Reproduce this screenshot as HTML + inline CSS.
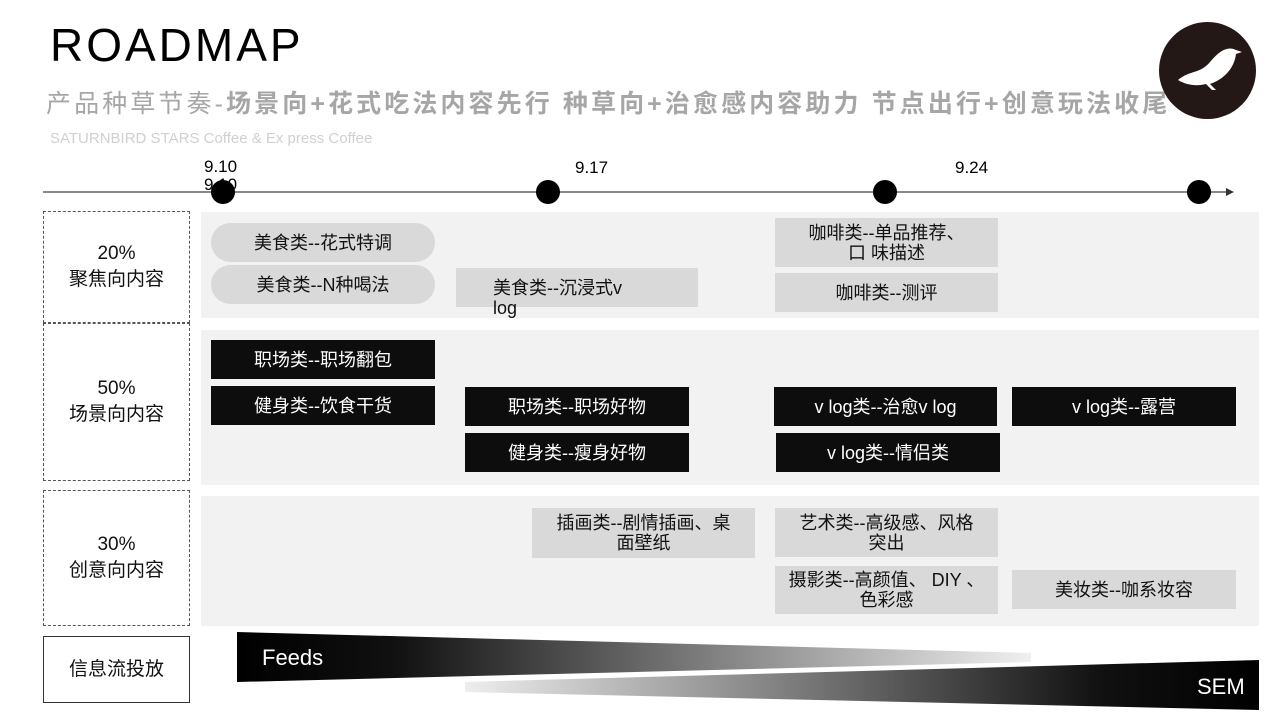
<!DOCTYPE html>
<html><head><meta charset="utf-8"><style>
body{margin:0;width:1280px;height:720px;background:#fff;position:relative;overflow:hidden;font-family:"Liberation Sans","Noto Sans CJK SC",sans-serif}
.a{position:absolute}
.bx{position:absolute;display:flex;align-items:center;justify-content:center;text-align:center;font-size:18px;line-height:20px;box-sizing:border-box}
.g{background:#d9d9d9;color:#111}
.k{background:#0d0d0d;color:#fff}
.bg{position:absolute;left:201px;width:1058px;background:#f2f2f2}
.lab{position:absolute;left:43px;width:147px;box-sizing:border-box;border:1.5px dashed #555;display:flex;align-items:center;justify-content:center;text-align:center;font-size:19px;line-height:26px;color:#111}
.dot{position:absolute;width:24px;height:24px;border-radius:50%;background:#000}
</style></head><body>
<div class="a" style="left:50px;top:18px;font-size:46px;color:#000;letter-spacing:3px">ROADMAP</div>
<div class="a" style="left:46px;top:84px;font-size:25px;color:#a6a6a6;white-space:nowrap;letter-spacing:3.1px">产品种草节奏-<b>场景向+花式吃法内容先行 种草向+治愈感内容助力 节点出行+创意玩法收尾</b></div>
<div class="a" style="left:50px;top:130px;font-size:15px;color:#d0d0d0;white-space:nowrap">SATURNBIRD STARS Coffee &amp; Ex press Coffee</div>
<div class="a" style="left:1159px;top:22px;width:97px;height:97px;border-radius:50%;background:#231815"></div>
<svg class="a" style="left:1170px;top:40px" width="80" height="60" viewBox="0 0 80 60"><path d="M8 40 C20 30 30 34 40 22 C50 10 58 6 66 10 L72 12 L66 14 C64 30 52 40 40 44 L46 50 L42 50 L36 44 C28 46 18 46 8 40Z" fill="#fff"/></svg>

<div class="a" style="left:43px;top:191px;width:1185px;height:2px;background:#888"></div>
<div class="a" style="left:1226px;top:188px;width:0;height:0;border-left:8px solid #333;border-top:4px solid transparent;border-bottom:4px solid transparent"></div>
<div class="dot" style="left:211px;top:180px"></div>
<div class="dot" style="left:536px;top:180px"></div>
<div class="dot" style="left:873px;top:180px"></div>
<div class="dot" style="left:1187px;top:180px"></div>
<div class="a" style="left:204px;top:158px;font-size:17px;line-height:18px">9.10<br>9.10</div>
<div class="a" style="left:575px;top:158px;font-size:17px">9.17</div>
<div class="a" style="left:955px;top:158px;font-size:17px">9.24</div>

<div class="bg" style="top:212px;height:106px"></div>
<div class="bg" style="top:330px;height:155px"></div>
<div class="bg" style="top:496px;height:130px"></div>

<div class="lab" style="top:211px;height:112px">20%<br>聚焦向内容</div>
<div class="lab" style="top:323px;height:158px">50%<br>场景向内容</div>
<div class="lab" style="top:490px;height:136px">30%<br>创意向内容</div>
<div class="lab" style="top:636px;height:67px;border:1.5px solid #333">信息流投放</div>

<div class="bx g" style="left:211px;top:223px;width:224px;height:39px;border-radius:20px">美食类--花式特调</div>
<div class="bx g" style="left:211px;top:265px;width:224px;height:39px;border-radius:20px">美食类--N种喝法</div>
<div class="bx g" style="left:456px;top:268px;width:242px;height:39px;justify-content:flex-start;align-items:flex-start;padding:10px 0 0 37px;text-align:left">美食类--沉浸式v<br>log</div>
<div class="bx g" style="left:775px;top:218px;width:223px;height:49px">咖啡类--单品推荐、<br>口 味描述</div>
<div class="bx g" style="left:775px;top:273px;width:223px;height:39px">咖啡类--测评</div>

<div class="bx k" style="left:211px;top:340px;width:224px;height:39px">职场类--职场翻包</div>
<div class="bx k" style="left:211px;top:386px;width:224px;height:39px">健身类--饮食干货</div>
<div class="bx k" style="left:465px;top:387px;width:224px;height:39px">职场类--职场好物</div>
<div class="bx k" style="left:465px;top:433px;width:224px;height:39px">健身类--瘦身好物</div>
<div class="bx k" style="left:774px;top:387px;width:223px;height:39px">v log类--治愈v log</div>
<div class="bx k" style="left:776px;top:433px;width:224px;height:39px">v log类--情侣类</div>
<div class="bx k" style="left:1012px;top:387px;width:224px;height:39px">v log类--露营</div>

<div class="bx g" style="left:532px;top:508px;width:223px;height:50px">插画类--剧情插画、桌<br>面壁纸</div>
<div class="bx g" style="left:775px;top:508px;width:223px;height:49px">艺术类--高级感、风格<br>突出</div>
<div class="bx g" style="left:775px;top:566px;width:223px;height:48px">摄影类--高颜值、 DIY 、<br>色彩感</div>
<div class="bx g" style="left:1012px;top:570px;width:224px;height:39px">美妆类--咖系妆容</div>

<svg class="a" style="left:0;top:0" width="1280" height="720">
<defs>
<linearGradient id="f" x1="0" x2="1"><stop offset="0" stop-color="#000"/><stop offset="0.2" stop-color="#111"/><stop offset="1" stop-color="#f0f0f0"/></linearGradient>
<linearGradient id="s" x1="0" x2="1"><stop offset="0" stop-color="#eee"/><stop offset="0.8" stop-color="#111"/><stop offset="1" stop-color="#000"/></linearGradient>
</defs>
<polygon points="237,632 1031,653 1031,662 237,682" fill="url(#f)"/>
<polygon points="465,682 1259,660 1259,710 465,692" fill="url(#s)"/>
<text x="262" y="665" font-size="22" fill="#fff" font-family="Liberation Sans, sans-serif">Feeds</text>
<text x="1197" y="694" font-size="22" fill="#fff" font-family="Liberation Sans, sans-serif">SEM</text>
</svg>
</body></html>
